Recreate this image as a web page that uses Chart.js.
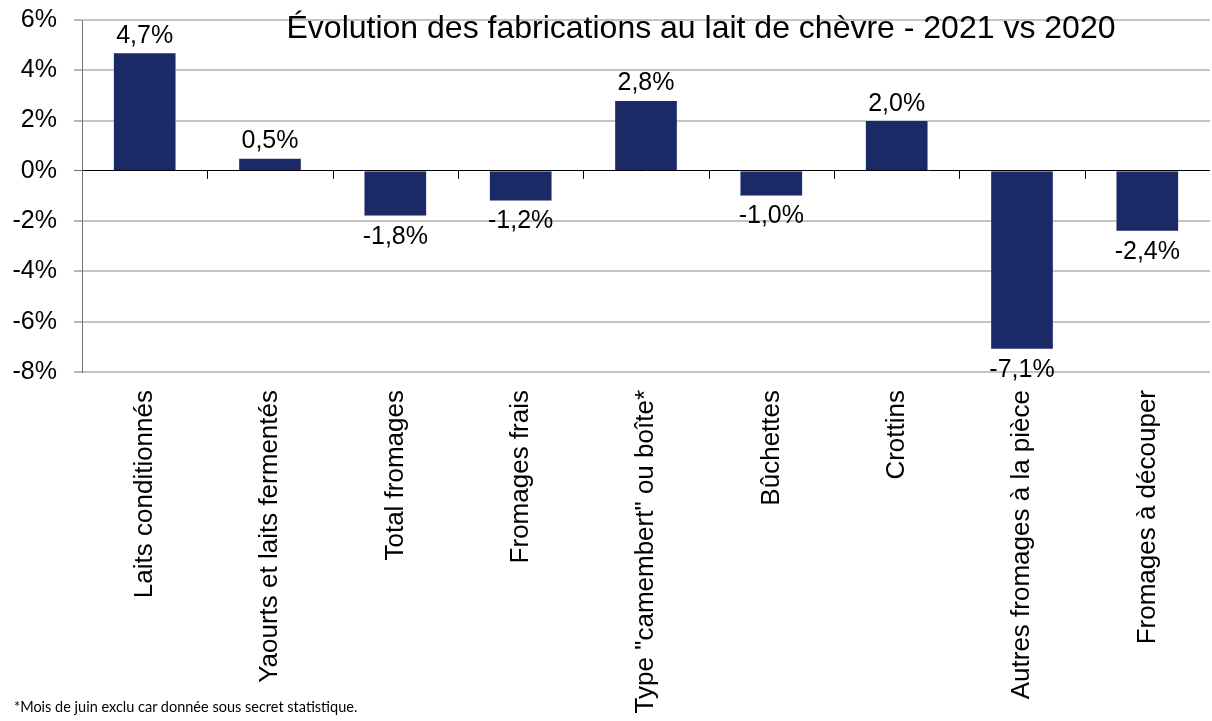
<!DOCTYPE html>
<html>
<head>
<meta charset="utf-8">
<script src="https://cdn.jsdelivr.net/npm/chart.js@4/dist/chart.umd.min.js"></script>
<style>
  body { margin: 0; background: #fff; }
  #wrap { position: relative; width: 1212px; height: 721px; }
  #note { position: absolute; left: 14px; top: 698px; font-family: Lato, "Open Sans", sans-serif; font-size: 14.5px; color: #000; }
</style>
</head>
<body>
<div id="wrap">
  <canvas id="graphique" width="1212" height="721"></canvas>
  <div id="note">*Mois de juin exclu car donnée sous secret statistique.</div>
</div>
<script>
const titre = 'Évolution des fabrications au lait de chèvre - 2021 vs 2020';
const categories = [
  'Laits conditionnés', 'Yaourts et laits fermentés', 'Total fromages', 'Fromages frais',
  'Type "camembert" ou boîte*', 'Bûchettes', 'Crottins', 'Autres fromages à la pièce', 'Fromages à découper'
];
const evolution = [4.7, 0.5, -1.8, -1.2, 2.8, -1.0, 2.0, -7.1, -2.4];
const yMin = -8;
const yMax = 6;
const yPas = 2;

const police = '"Liberation Sans", Arial, sans-serif';

function formatPct(v) {
  return v.toFixed(1).replace('.', ',') + '%';
}

// titre dans la zone du graphique, étiquettes de valeur, graduations sur le zéro
const extras = {
  id: 'extras',
  afterDatasetsDraw(chart) {
    const ctx = chart.ctx;
    const x = chart.scales.x;
    const y = chart.scales.y;
    const y0 = y.getPixelForValue(0);

    ctx.save();
    ctx.strokeStyle = '#000';
    ctx.lineWidth = 1;
    for (let i = 1; i < categories.length; i++) {
      const bx = Math.round((x.getPixelForValue(i - 1) + x.getPixelForValue(i)) / 2) + 0.5;
      ctx.beginPath();
      ctx.moveTo(bx, y0);
      ctx.lineTo(bx, y0 + 8);
      ctx.stroke();
    }

    ctx.fillStyle = '#000';
    ctx.textAlign = 'center';
    ctx.font = '25px ' + police;
    const meta = chart.getDatasetMeta(0);
    meta.data.forEach((bar, i) => {
      const v = evolution[i];
      if (v >= 0) {
        ctx.textBaseline = 'alphabetic';
        ctx.fillText(formatPct(v), bar.x, bar.y - 10);
      } else {
        ctx.textBaseline = 'top';
        ctx.fillText(formatPct(v), bar.x, bar.y + 8);
      }
    });

    ctx.font = '32px ' + police;
    ctx.textBaseline = 'alphabetic';
    ctx.fillText(titre, 701, 38);
    ctx.restore();
  }
};

new Chart(document.getElementById('graphique').getContext('2d'), {
  type: 'bar',
  data: {
    labels: categories,
    datasets: [{
      data: evolution,
      backgroundColor: '#1b2a66',
      borderColor: '#dfe3ee',
      borderWidth: 0.5,
      categoryPercentage: 1,
      barPercentage: 0.5
    }]
  },
  options: {
    responsive: false,
    animation: false,
    layout: { padding: { top: 20, right: 2, left: 0, bottom: 0 } },
    plugins: {
      legend: { display: false },
      tooltip: { enabled: false },
      title: { display: false }
    },
    scales: {
      x: {
        grid: { display: false },
        border: { display: false },
        ticks: {
          minRotation: 90,
          maxRotation: 90,
          autoSkip: false,
          padding: 10,
          color: '#000',
          font: { family: police, size: 26 }
        },
        afterFit(scale) {
          scale.height = 349;
          scale.paddingLeft = 0;
          scale.paddingRight = 0;
        }
      },
      y: {
        min: yMin,
        max: yMax,
        border: { display: true, color: '#707070', width: 1 },
        grid: {
          color: ctx => ctx.tick && ctx.tick.value === 0 ? '#000' : '#c4c4c4',
          lineWidth: ctx => ctx.tick && ctx.tick.value === 0 ? 1 : 2,
          tickColor: '#707070',
          tickLength: 8,
          tickWidth: 1
        },
        ticks: {
          stepSize: yPas,
          padding: 17,
          color: '#000',
          font: { family: police, size: 25 },
          callback: v => v + '%'
        },
        afterFit(scale) {
          scale.width = 82;
          scale.paddingTop = 0;
          scale.paddingBottom = 0;
        }
      }
    }
  },
  plugins: [extras]
});
</script>
</body>
</html>
